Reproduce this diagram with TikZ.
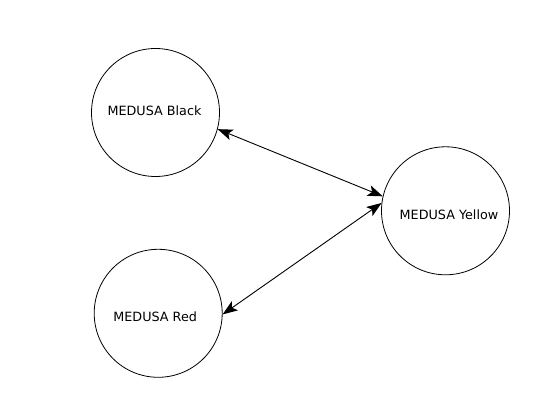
\documentclass[tikz,border=0pt]{standalone}
\usepackage{fontspec}
\setmainfont{DejaVu Sans}
\usetikzlibrary{arrows.meta}
\begin{document}
\begin{tikzpicture}[x=1pt,y=1pt,
  state/.style={draw=black, line width=0.8pt, circle, minimum size=128pt, inner sep=0pt},
  lbl/.style={font=\fontsize{12.75}{15}\selectfont, text=black},
  link/.style={line width=0.9pt, {Stealth[length=15pt,width=11pt,inset=3.5pt]}-{Stealth[length=15pt,width=11pt,inset=3.5pt]}}]
\useasboundingbox (0,0) rectangle (560,420);
\node[state, label={[lbl, xshift=-1pt, yshift=1.5pt]center:MEDUSA Black}] (black) at (155.5,307.5) {};
\node[state, label={[lbl, xshift=-3pt, yshift=-3pt]center:MEDUSA Red}] (red) at (158.2,106.7) {};
\node[state, label={[lbl, xshift=3.5pt, yshift=-4pt]center:MEDUSA Yellow}] (yellow) at (445.5,209.2) {};
\draw[link] (black.-15.6) -- (yellow.167.7);
\draw[link] (red.-1.5) -- (yellow.173.5);
\end{tikzpicture}
\end{document}
